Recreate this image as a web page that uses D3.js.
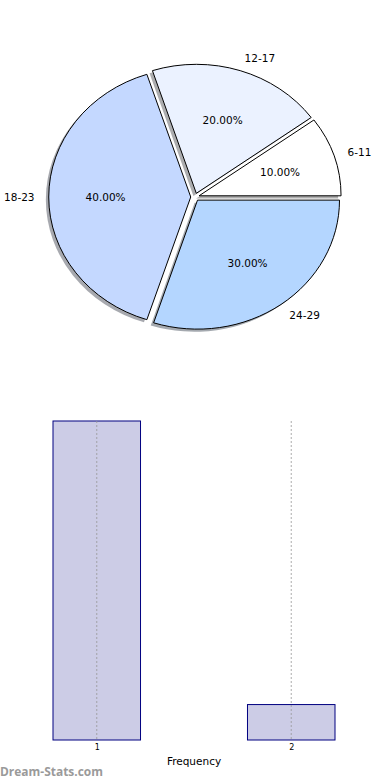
<!DOCTYPE html>
<html><head><meta charset="utf-8">
<script src="https://cdn.jsdelivr.net/npm/d3@7"></script>
<style>body{margin:0;background:#fff}svg{display:block}</style>
</head><body>
<script>
const ageGroups = ["6-11", "12-17", "18-23", "24-29"];
const shares = [10, 20, 40, 30];
const sliceColors = ["#ffffff", "#ebf2ff", "#c4d8ff", "#b4d6ff"];
const barCategories = [1, 2];
const barFrequencies = [9, 1];
const barTickLabels = ["1", "2"];

const W = 390, H = 780;
const svg = d3.select("body").append("svg").attr("width", W).attr("height", H);

// ---- Pie (elliptical, exploded, shadowed) ----
const cx = 195, cy = 197, rx = 142, ry = 129, explode = 0.03;
const k = ry / rx;
const pie = d3.pie().sort(null).startAngle(Math.PI / 2).endAngle(Math.PI / 2 - 2 * Math.PI);
const arcs = pie(shares);
const arcGen = d3.arc().innerRadius(0).outerRadius(rx);
const font = "DejaVu Sans, sans-serif";

function off(d) {
  const a = (d.startAngle + d.endAngle) / 2;
  return [explode * rx * Math.sin(a), -explode * rx * Math.cos(a) * k];
}
function darken(c) {
  const r = d3.rgb(c);
  return d3.rgb(r.r * 0.3, r.g * 0.3, r.b * 0.3).toString();
}
const pieG = svg.append("g");
pieG.selectAll("path.shadow").data(arcs).join("path")
  .attr("class", "shadow")
  .attr("d", arcGen)
  .attr("transform", d => { const o = off(d); return `translate(${cx + o[0] - 2.9},${cy + o[1] + 2.6}) scale(1,${k})`; })
  .attr("fill", (d, i) => darken(sliceColors[i]))
  .attr("opacity", 0.45);
pieG.selectAll("path.wedge").data(arcs).join("path")
  .attr("class", "wedge")
  .attr("d", arcGen)
  .attr("transform", d => { const o = off(d); return `translate(${cx + o[0]},${cy + o[1]}) scale(1,${k})`; })
  .attr("fill", (d, i) => sliceColors[i])
  .attr("stroke", "#000")
  .attr("stroke-width", 1)
  .attr("vector-effect", "non-scaling-stroke");
arcs.forEach((d, i) => {
  const a = (d.startAngle + d.endAngle) / 2;
  const o = off(d);
  const lx = cx + o[0] + 1.1 * rx * Math.sin(a);
  const ly = cy + o[1] - 1.1 * ry * Math.cos(a);
  pieG.append("text").attr("x", lx).attr("y", ly)
    .attr("text-anchor", Math.sin(a) > 0 ? "start" : "end")
    .attr("dominant-baseline", "central")
    .attr("font-family", font).attr("font-size", 10.5).attr("fill", "#000")
    .text(ageGroups[i]);
  const px = cx + o[0] + 0.6 * rx * Math.sin(a);
  const py = cy + o[1] - 0.6 * ry * Math.cos(a);
  pieG.append("text").attr("x", px).attr("y", py)
    .attr("text-anchor", "middle")
    .attr("dominant-baseline", "central")
    .attr("font-family", font).attr("font-size", 10.5).attr("fill", "#000")
    .text(shares[i].toFixed(2) + "%");
});

// ---- Bar chart ----
const x = d3.scaleLinear().domain([0.775, 2.225]).range([53, 335]);
const y = d3.scaleLinear().domain([0, 9]).range([740, 421]);
const barW = 0.45;
const barG = svg.append("g");
barG.selectAll("rect").data(barCategories).join("rect")
  .attr("x", d => x(d - barW / 2))
  .attr("width", d => x(d + barW / 2) - x(d - barW / 2))
  .attr("y", (d, i) => y(barFrequencies[i]))
  .attr("height", (d, i) => y(0) - y(barFrequencies[i]))
  .attr("fill", "#ccccE6")
  .attr("stroke", "#000080")
  .attr("stroke-width", 1);
barG.selectAll("line.grid").data(barCategories).join("line")
  .attr("class", "grid")
  .attr("x1", d => x(d)).attr("x2", d => x(d))
  .attr("y1", y(9)).attr("y2", y(0))
  .attr("stroke", "#999999").attr("stroke-width", 1)
  .attr("stroke-dasharray", "2,2").attr("opacity", 0.8);
const xAxis = d3.axisBottom(x).tickValues(barCategories).tickFormat((d, i) => barTickLabels[i]).tickSize(0).tickPadding(4);
const ax = svg.append("g").attr("transform", `translate(0,${y(0)})`).call(xAxis);
ax.select(".domain").remove();
ax.selectAll("text").attr("font-family", font).attr("font-size", 8).attr("fill", "#000");
svg.append("text").attr("x", (x.range()[0] + x.range()[1]) / 2).attr("y", 761)
  .attr("text-anchor", "middle").attr("dominant-baseline", "central")
  .attr("font-family", font).attr("font-size", 10.5).attr("fill", "#000")
  .text("Frequency");
svg.append("text").attr("x", 0).attr("y", 771)
  .attr("dominant-baseline", "central")
  .attr("font-family", "Open Sans, sans-serif").attr("font-weight", "bold")
  .attr("font-size", 12).attr("fill", "#9a9a9a")
  .attr("textLength", 103).attr("lengthAdjust", "spacingAndGlyphs")
  .text("Dream-Stats.com");
</script>
</body></html>
